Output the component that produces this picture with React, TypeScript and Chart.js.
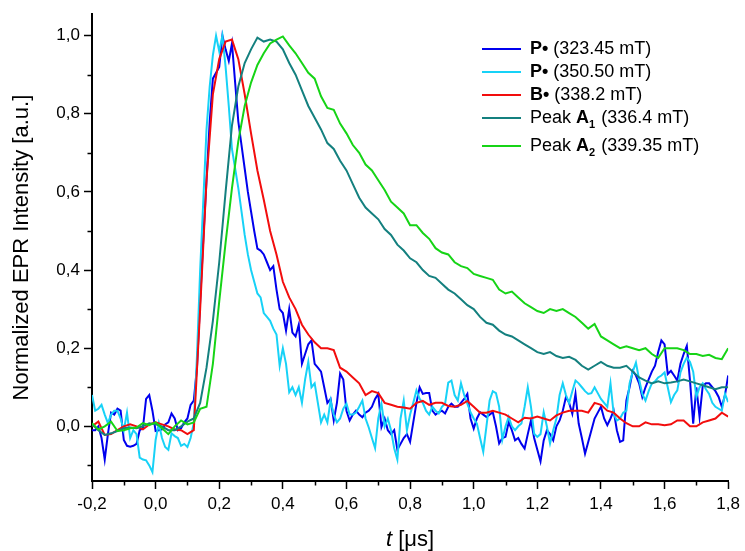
import React, { useEffect, useRef } from 'react';
import { Chart, registerables } from 'chart.js';

Chart.register(...registerables);

// time grid
const T_START = -0.2;
const FINE_STEP = 0.01;   // P• traces
const COARSE_STEP = 0.02; // B•, A1, A2 traces

// P• (323.45 mT) – blue, every 0.01 µs from -0.20
const bluePValues: number[] = [
  -0.01, -0.01, 0.0, -0.03, -0.085, -0.02, 0.035, 0.03, 0.045, 0.04,
  -0.035, -0.05, -0.052, -0.05, -0.045, -0.01, -0.005, 0.07, 0.08, 0.04,
  -0.012, -0.01, -0.008, 0.005, 0.01, 0.033, 0.02, -0.01, -0.005, 0.01,
  0.02, 0.055, 0.066, 0.15, 0.32, 0.48, 0.63, 0.78, 0.89, 0.905,
  0.92, 1.0, 0.965, 0.935, 0.98, 0.88, 0.78, 0.72, 0.66, 0.6,
  0.55, 0.5, 0.455, 0.45, 0.44, 0.42, 0.4, 0.41, 0.35, 0.3,
  0.29, 0.245, 0.3, 0.24, 0.23, 0.26, 0.16, 0.185, 0.21, 0.22,
  0.16, 0.15, 0.14, 0.1, 0.06, 0.07, 0.015, 0.06, 0.135, 0.12,
  0.04, 0.015, 0.03, 0.04, 0.03, 0.023, 0.035, 0.04, 0.05, 0.07,
  0.083, -0.002, 0.02, -0.01, -0.02, -0.01, -0.06, -0.045, -0.03, -0.02,
  -0.04, 0.01, 0.06, 0.1, 0.083, 0.085, 0.085, 0.04, 0.03, 0.036,
  0.04, 0.033, 0.05, 0.058, 0.05, 0.05, 0.06, 0.07, 0.083, 0.02,
  -0.006, 0.02, 0.036, 0.03, 0.024, 0.03, 0.036, 0.0, -0.044, -0.03,
  -0.027, 0.011, -0.01, -0.036, -0.03, -0.045, -0.057, -0.02, 0.015, -0.03,
  -0.06, -0.09, -0.036, -0.01, -0.02, -0.036, 0.0, 0.015, 0.04, 0.075,
  0.06, 0.032, 0.083, 0.007, -0.03, -0.07, -0.04, -0.01, 0.02, 0.035,
  0.05, 0.02, 0.003, 0.02, 0.04, -0.01, -0.04, -0.036, 0.066, 0.1,
  0.142, 0.13, 0.11, 0.075, 0.1, 0.12, 0.14, 0.155, 0.19, 0.22,
  0.21, 0.134, 0.142, 0.13, 0.117, 0.16, 0.185, 0.206, 0.117, 0.007,
  0.1, 0.024, 0.104, 0.11, 0.11, 0.1, 0.09, 0.075, 0.05, 0.08,
  0.13,
];

// P• (350.50 mT) – cyan, every 0.01 µs from -0.20
const cyanPValues: number[] = [
  0.08, 0.04, 0.045, 0.055, 0.03, 0.008, 0.03, 0.04, 0.04, 0.02,
  -0.01, 0.035, -0.03, -0.01, -0.02, -0.08, -0.085, -0.087, -0.1, -0.117,
  -0.035, 0.008, -0.03, -0.053, -0.06, -0.018, -0.025, -0.03, -0.05, -0.045,
  -0.053, -0.03, 0.008, 0.18, 0.4, 0.58, 0.76, 0.87, 0.95, 1.0,
  0.96, 1.0, 0.92, 0.82, 0.71, 0.66, 0.61, 0.55, 0.49, 0.44,
  0.4, 0.37, 0.34, 0.33, 0.29, 0.28, 0.27, 0.25, 0.235, 0.155,
  0.2, 0.16, 0.087, 0.1, 0.08, 0.1, 0.06, 0.12, 0.165, 0.1,
  0.11, 0.06, 0.01, 0.03, 0.01, 0.066, 0.03, 0.01, 0.02, 0.045,
  0.058, 0.03, 0.03, 0.035, 0.05, 0.066, 0.02, -0.003, -0.03, -0.056,
  0.02, 0.058, 0.0, 0.02, -0.01, -0.056, -0.085, 0.02, 0.066, -0.01,
  0.03, 0.06, 0.092, 0.07, 0.06, 0.04, 0.03, 0.05, 0.04, 0.033,
  0.05, 0.058, 0.112, 0.117, 0.08, 0.066, 0.11, 0.08, 0.058, 0.036,
  0.02, 0.007, -0.03, -0.065, 0.0, 0.066, 0.09, 0.085, 0.05, -0.034,
  0.0, 0.024, 0.0, -0.01, 0.0, 0.007, 0.05, 0.1, 0.05, -0.019,
  -0.027, -0.02, 0.036, 0.0, -0.044, -0.01, 0.02, 0.08, 0.11, 0.08,
  0.06, 0.09, 0.117, 0.11, 0.1, 0.09, 0.083, 0.085, 0.1, 0.085,
  0.07, 0.06, 0.05, 0.11, 0.032, 0.015, 0.02, 0.035, 0.04, 0.11,
  0.14, 0.163, 0.12, 0.083, 0.066, 0.09, 0.11, 0.115, 0.125, 0.13,
  0.138, 0.1, 0.062, 0.08, 0.092, 0.138, 0.16, 0.176, 0.165, 0.14,
  0.075, 0.1, 0.11, 0.095, 0.083, 0.06, 0.05, 0.045, 0.04, 0.083,
  0.062,
];

// B• (338.2 mT) – red, every 0.02 µs from -0.20
const redBValues: number[] = [
  0.0, 0.012, -0.022, -0.02, -0.01, 0.0, 0.005, 0.0, -0.008, 0.005,
  0.01, 0.005, 0.0, -0.008, -0.01, -0.02, -0.01, 0.3, 0.63, 0.85,
  0.94, 0.985, 0.99, 0.94, 0.85, 0.75, 0.655, 0.58, 0.5, 0.44,
  0.37, 0.33, 0.3, 0.26, 0.235, 0.215, 0.2, 0.2, 0.195, 0.15,
  0.14, 0.125, 0.11, 0.08, 0.09, 0.085, 0.06, 0.055, 0.05, 0.048,
  0.045, 0.06, 0.065, 0.055, 0.06, 0.06, 0.052, 0.05, 0.055, 0.065,
  0.05, 0.035, 0.035, 0.04, 0.035, 0.03, 0.02, 0.01, 0.022, 0.02,
  0.025, 0.02, 0.015, 0.028, 0.035, 0.04, 0.04, 0.04, 0.035, 0.06,
  0.055, 0.04, 0.035, 0.02, 0.008, 0.0, 0.0, 0.01, 0.005, 0.005,
  0.003, 0.005, 0.015, 0.015, 0.0, 0.0, 0.01, 0.015, 0.02, 0.035,
  0.025,
];

// Peak A1 (336.4 mT) – teal, every 0.02 µs from -0.20
const tealA1Values: number[] = [
  0.005, -0.01, -0.022, -0.018, -0.012, -0.005, -0.003, -0.005, 0.0, 0.008,
  0.005, 0.0, -0.01, -0.01, 0.0, 0.012, 0.02, 0.06, 0.15, 0.27,
  0.42, 0.6, 0.77, 0.87, 0.93, 0.965, 0.995, 0.985, 0.99, 0.985,
  0.965, 0.93, 0.9, 0.86, 0.82, 0.79, 0.76, 0.725, 0.71, 0.68,
  0.655, 0.62, 0.585, 0.56, 0.545, 0.53, 0.505, 0.49, 0.465, 0.45,
  0.43, 0.42, 0.4, 0.385, 0.38, 0.365, 0.35, 0.34, 0.325, 0.31,
  0.3, 0.28, 0.265, 0.26, 0.245, 0.235, 0.23, 0.22, 0.21, 0.2,
  0.19, 0.185, 0.19, 0.18, 0.175, 0.178, 0.17, 0.155, 0.145, 0.155,
  0.165, 0.155, 0.15, 0.15, 0.155, 0.14, 0.125, 0.117, 0.11, 0.115,
  0.11, 0.112, 0.115, 0.12, 0.115, 0.11, 0.105, 0.1, 0.095, 0.1,
  0.1,
];

// Peak A2 (339.35 mT) – green, every 0.02 µs from -0.20
const greenA2Values: number[] = [
  0.008, -0.008, 0.0, 0.012, -0.012, -0.01, -0.005, -0.003, 0.008, 0.003,
  0.01, -0.005, -0.02, 0.0, 0.015, 0.005, 0.01, 0.045, 0.05, 0.16,
  0.32, 0.47, 0.61, 0.73, 0.82, 0.88, 0.925, 0.955, 0.98, 0.99,
  0.998, 0.975, 0.955, 0.93, 0.905, 0.89, 0.845, 0.815, 0.81, 0.775,
  0.75, 0.72, 0.7, 0.67, 0.655, 0.63, 0.605, 0.575, 0.56, 0.545,
  0.515, 0.515, 0.495, 0.48, 0.456, 0.445, 0.44, 0.42, 0.41, 0.405,
  0.39, 0.385, 0.38, 0.375, 0.35, 0.34, 0.345, 0.33, 0.315, 0.305,
  0.295, 0.29, 0.3, 0.295, 0.3, 0.29, 0.28, 0.265, 0.25, 0.262,
  0.23, 0.22, 0.21, 0.2, 0.205, 0.2, 0.195, 0.2, 0.185, 0.175,
  0.2, 0.2, 0.2, 0.195, 0.185, 0.185, 0.18, 0.183, 0.175, 0.172,
  0.2,
];

// axes
const X_MIN = -0.2;
const X_MAX = 1.8;
const Y_MIN = -0.14;
const Y_MAX = 1.055;
const X_MAJOR_TICKS = [-0.2, 0.0, 0.2, 0.4, 0.6, 0.8, 1.0, 1.2, 1.4, 1.6, 1.8];
const X_MINOR_TICKS = [-0.1, 0.1, 0.3, 0.5, 0.7, 0.9, 1.1, 1.3, 1.5, 1.7];
const Y_MAJOR_TICKS = [0.0, 0.2, 0.4, 0.6, 0.8, 1.0];
const Y_MINOR_TICKS = [-0.1, 0.1, 0.3, 0.5, 0.7, 0.9];

const Y_TITLE = 'Normalized EPR Intensity [a.u.]';
const X_TITLE_ITALIC = 't';
const X_TITLE_REST = ' [μs]';

type Part = { text: string; bold?: boolean; sub?: boolean };
const SERIES_NAMES: Part[][] = [
  [{ text: 'P•', bold: true }, { text: ' (323.45 mT)' }],
  [{ text: 'P•', bold: true }, { text: ' (350.50 mT)' }],
  [{ text: 'B•', bold: true }, { text: ' (338.2 mT)' }],
  [{ text: 'Peak ' }, { text: 'A', bold: true }, { text: '1', bold: true, sub: true }, { text: ' (336.4 mT)' }],
  [{ text: 'Peak ' }, { text: 'A', bold: true }, { text: '2', bold: true, sub: true }, { text: ' (339.35 mT)' }],
];
const SERIES_COLORS = ['#0000ee', '#17d2f7', '#f20d0d', '#14807f', '#16d416'];

const FONT = '"Liberation Sans", Arial, Helvetica, sans-serif';

function toPoints(values: number[], step: number) {
  return values.map((v, i) => ({ x: Math.round((T_START + i * step) * 1000) / 1000, y: v }));
}

function fmt(v: number) {
  return Number(v).toFixed(1).replace('.', ',');
}

const decorPlugin = {
  id: 'decor',
  afterDraw(chart: any) {
    const { ctx, chartArea, scales } = chart;
    const xs = scales.x;
    const ys = scales.y;
    ctx.save();
    // minor ticks
    ctx.strokeStyle = '#000';
    ctx.lineWidth = 1.5;
    ctx.beginPath();
    Y_MINOR_TICKS.forEach((v) => {
      const py = Math.round(ys.getPixelForValue(v)) + 0.5;
      ctx.moveTo(chartArea.left - 4.5, py);
      ctx.lineTo(chartArea.left, py);
    });
    X_MINOR_TICKS.forEach((v) => {
      const px = Math.round(xs.getPixelForValue(v)) + 0.5;
      ctx.moveTo(px, chartArea.bottom);
      ctx.lineTo(px, chartArea.bottom + 4.5);
    });
    ctx.stroke();

    // y title
    ctx.fillStyle = '#000';
    ctx.save();
    ctx.translate(22, (chartArea.top + chartArea.bottom) / 2);
    ctx.rotate(-Math.PI / 2);
    ctx.font = `22px ${FONT}`;
    ctx.textAlign = 'center';
    ctx.textBaseline = 'middle';
    ctx.fillText(Y_TITLE, 0, 0);
    ctx.restore();

    // x title
    ctx.textBaseline = 'middle';
    ctx.textAlign = 'left';
    ctx.font = `italic 22px ${FONT}`;
    const w1 = ctx.measureText(X_TITLE_ITALIC).width;
    ctx.font = `22px ${FONT}`;
    const w2 = ctx.measureText(X_TITLE_REST).width;
    const cx = (chartArea.left + chartArea.right) / 2;
    let tx = cx - (w1 + w2) / 2;
    ctx.font = `italic 22px ${FONT}`;
    ctx.fillText(X_TITLE_ITALIC, tx, 540);
    tx += w1;
    ctx.font = `22px ${FONT}`;
    ctx.fillText(X_TITLE_REST, tx, 540);

    // legend
    const rowsY = [49, 72, 95, 118, 146];
    SERIES_NAMES.forEach((parts, i) => {
      const y = rowsY[i];
      ctx.strokeStyle = SERIES_COLORS[i];
      ctx.lineWidth = 2;
      ctx.beginPath();
      ctx.moveTo(482, y);
      ctx.lineTo(521, y);
      ctx.stroke();
      let x = 530;
      ctx.fillStyle = '#000';
      ctx.textBaseline = 'middle';
      parts.forEach((p) => {
        const size = p.sub ? 11 : 18;
        ctx.font = `${p.bold ? 'bold ' : ''}${size}px ${FONT}`;
        ctx.fillText(p.text, x, p.sub ? y + 7 : y);
        x += ctx.measureText(p.text).width + (p.sub ? 1 : 0);
      });
    });
    ctx.restore();
  },
};

export default function App() {
  const canvasRef = useRef<HTMLCanvasElement | null>(null);

  useEffect(() => {
    if (!canvasRef.current) return;
    const series = [
      toPoints(bluePValues, FINE_STEP),
      toPoints(cyanPValues, FINE_STEP),
      toPoints(redBValues, COARSE_STEP),
      toPoints(tealA1Values, COARSE_STEP),
      toPoints(greenA2Values, COARSE_STEP),
    ];
    const chart = new Chart(canvasRef.current, {
      type: 'line',
      data: {
        datasets: series.map((pts, i) => ({
          label: SERIES_NAMES[i].map((p) => p.text).join(''),
          data: pts,
          borderColor: SERIES_COLORS[i],
          backgroundColor: SERIES_COLORS[i],
          borderWidth: 2,
          pointRadius: 0,
          tension: 0,
          fill: false,
          order: 5 - i,
        })),
      },
      options: {
        responsive: false,
        animation: false,
        devicePixelRatio: 1,
        layout: { padding: { left: 0, top: 12, right: 15, bottom: 0 } },
        plugins: {
          legend: { display: false },
          tooltip: { enabled: false },
          title: { display: false },
        },
        scales: {
          x: {
            type: 'linear',
            min: X_MIN,
            max: X_MAX,
            afterBuildTicks: (scale: any) => {
              scale.ticks = X_MAJOR_TICKS.map((v) => ({ value: v }));
            },
            afterFit: (scale: any) => {
              scale.height = 70;
            },
            ticks: {
              autoSkip: false,
              maxRotation: 0,
              minRotation: 0,
              padding: 5,
              color: '#000',
              font: { family: FONT, size: 17 },
              callback: (v: any) => fmt(v),
            },
            grid: {
              drawOnChartArea: false,
              drawTicks: true,
              tickLength: 8,
              tickWidth: 1.5,
              tickColor: '#000',
            },
            border: { display: true, color: '#000', width: 2 },
          },
          y: {
            type: 'linear',
            min: Y_MIN,
            max: Y_MAX,
            afterBuildTicks: (scale: any) => {
              scale.ticks = Y_MAJOR_TICKS.map((v) => ({ value: v }));
            },
            afterFit: (scale: any) => {
              scale.width = 92;
            },
            ticks: {
              autoSkip: false,
              padding: 4,
              color: '#000',
              font: { family: FONT, size: 17 },
              callback: (v: any) => fmt(v),
            },
            grid: {
              drawOnChartArea: false,
              drawTicks: true,
              tickLength: 8,
              tickWidth: 1.5,
              tickColor: '#000',
            },
            border: { display: true, color: '#000', width: 2 },
          },
        },
      },
      plugins: [decorPlugin],
    });
    return () => chart.destroy();
  }, []);

  return (
    <div style={{ position: 'fixed', left: 0, top: 0, width: 745, height: 551, background: '#fff' }}>
      <canvas ref={canvasRef} width={745} height={551} style={{ display: 'block' }} />
    </div>
  );
}
